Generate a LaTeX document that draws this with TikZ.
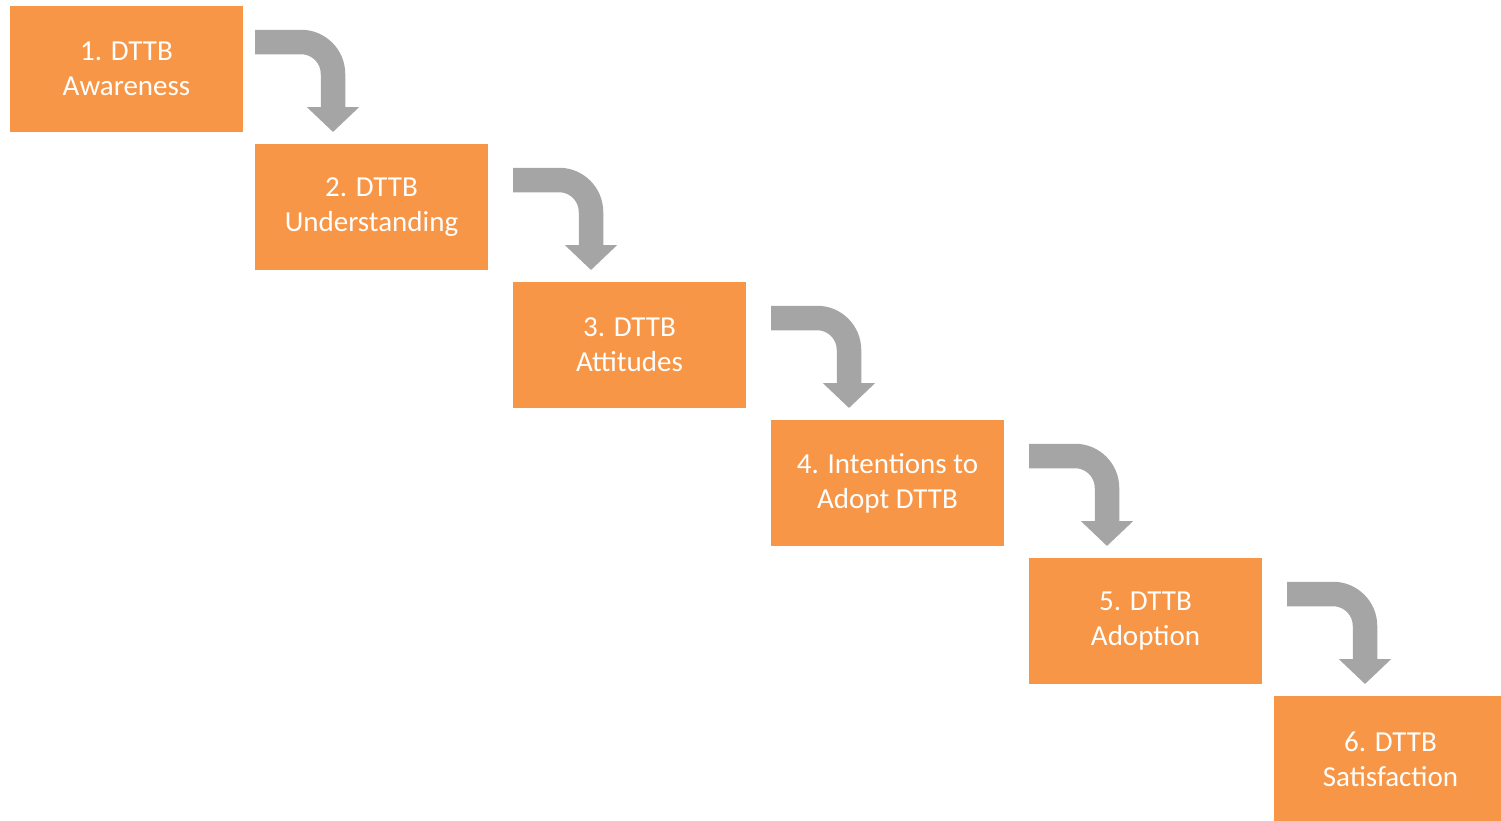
\documentclass[tikz,border=0pt]{standalone}
\usepackage{fontspec}
\setmainfont{Carlito}
\usetikzlibrary{arrows.meta, positioning}

\definecolor{boxorange}{HTML}{F79646}
\definecolor{arrowgray}{HTML}{A5A5A5}

\begin{document}
\begin{tikzpicture}[
            x = 1pt, y = 1pt,
            node distance = 12pt, % gap between steps
            flow/.style = {
                draw = arrowgray,
                line width = 24.5pt, % fat bent arrow
                rounded corners = 32pt,
                -{Triangle[width=51pt, length=25pt]}
            }
        ]

        \tikzstyle{stage}=[
            fill = boxorange,
            text = white,
            align = center,
            inner sep = 0pt,
            outer sep = 0pt,
            minimum width = 233pt,
            minimum height = 126pt,
            font = \fontsize{29}{35}\selectfont
        ]

        \useasboundingbox (0,0) rectangle (1501,-820);

        \node[stage, anchor=north west] (b1) at (10,-6) {1. DTTB\\Awareness};
        \node[stage, anchor=north west, below right=12pt and 12pt of b1.south east] (b2) {2. DTTB\\Understanding};
        \node[stage, anchor=north west, below right=12pt and 25pt of b2.south east] (b3) {3. DTTB\\Attitudes};
        \node[stage, anchor=north west, below right=12pt and 25pt of b3.south east] (b4) {4. Intentions to\\Adopt DTTB};
        \node[stage, anchor=north west, below right=12pt and 25pt of b4.south east] (b5) {5. DTTB\\Adoption};
        \node[stage, anchor=north west, below right=12pt and 12pt of b5.south east] (b6) {6. DTTB\\Satisfaction};

        % bent arrows between the steps
        \foreach \i/\gap in {1/12pt, 2/25pt, 3/25pt, 4/25pt, 5/25pt}
            \draw[flow] ([xshift=\gap, yshift=-36pt]b\i.north east) -| ++(78pt,-90pt);
    \end{tikzpicture}
\end{document}
